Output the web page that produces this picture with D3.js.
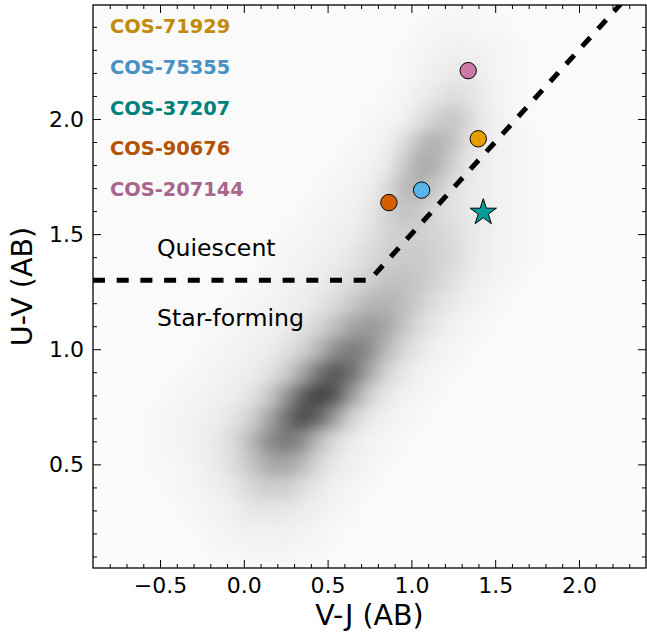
<!DOCTYPE html>
<html><head><meta charset="utf-8">
<script src="https://cdn.jsdelivr.net/npm/d3@7"></script>
<style>body{margin:0;background:#fff}svg{display:block}text{font-family:"DejaVu Sans",sans-serif}</style>
</head><body><svg id="c" width="647" height="639"></svg>
<script>
// ---- data ----
const xCenters=[-0.85,-0.75,-0.65,-0.55,-0.45,-0.35,-0.25,-0.15,-0.05,0.05,0.15,0.25,0.35,0.45,0.55,0.65,0.75,0.85,0.95,1.05,1.15,1.25,1.35,1.45,1.55,1.65,1.75,1.85,1.95,2.05,2.15,2.25,2.35];
const yCenters=[2.5,2.4,2.3,2.2,2.1,2.0,1.9,1.8,1.7,1.6,1.5,1.4,1.3,1.2,1.1,1.0,0.9,0.8,0.7,0.6,0.5,0.4,0.3,0.2,0.1];
const density=[
[2,2,2,2,2,2,2,2,2,2,2,2,2,2,2,2,2,2,2,2,2,3,3,3,2,2,2,2,2,2,2,2,2],
[2,2,2,2,2,2,2,2,2,2,2,2,2,2,2,2,2,2,2,3,4,4,4,3,3,2,2,2,2,2,2,2,2],
[2,2,2,2,2,2,2,2,2,2,2,2,2,2,2,2,2,2,3,4,5,6,6,5,4,3,2,2,2,2,2,2,2],
[2,2,2,2,2,2,2,2,2,2,2,2,2,2,2,2,2,2,3,5,7,9,9,6,4,3,2,2,2,2,2,2,2],
[2,2,2,2,2,2,2,2,2,2,2,2,2,2,2,2,2,3,4,7,11,14,12,7,4,3,2,2,2,2,2,2,2],
[2,2,2,2,2,2,2,2,2,2,2,2,2,2,2,2,3,4,6,12,20,24,16,8,5,3,2,2,2,2,2,2,2],
[2,2,2,2,2,2,2,2,2,2,2,2,2,2,2,3,4,6,14,27,33,25,12,7,5,4,3,2,2,2,2,2,2],
[2,2,2,2,2,2,2,2,2,2,2,2,2,2,3,4,5,9,22,35,33,19,10,7,5,4,3,2,2,2,2,2,2],
[2,2,2,2,2,2,2,2,2,2,2,2,2,3,4,5,7,15,28,32,22,13,9,7,5,4,3,2,2,2,2,2,2],
[2,2,2,2,2,2,2,2,2,2,2,2,3,4,5,6,10,18,25,22,16,12,9,7,5,4,3,2,2,2,2,2,2],
[2,2,2,2,2,2,2,2,2,2,2,3,4,5,6,8,12,18,20,20,17,14,10,7,5,4,3,2,2,2,2,2,2],
[2,2,2,2,2,2,2,2,2,2,3,4,5,6,8,11,15,20,22,22,19,16,10,7,5,4,3,2,2,2,2,2,2],
[2,2,2,2,2,2,2,2,2,3,4,5,6,8,11,15,20,25,26,23,18,13,8,6,4,3,2,2,2,2,2,2,2],
[2,2,2,2,2,2,2,2,3,4,5,6,8,11,16,23,30,32,28,20,13,9,6,4,3,2,2,2,2,2,2,2,2],
[2,2,2,2,2,2,2,3,4,5,6,8,12,18,28,38,43,38,25,15,9,6,4,3,2,2,2,2,2,2,2,2,2],
[2,2,2,2,2,2,3,4,5,6,8,12,19,32,48,55,48,31,17,10,6,4,3,2,2,2,2,2,2,2,2,2,2],
[2,2,2,2,2,3,4,5,6,8,12,21,38,60,70,60,38,19,10,6,4,3,2,2,2,2,2,2,2,2,2,2,2],
[2,2,2,2,3,4,5,6,8,12,23,44,68,80,70,42,20,10,6,4,3,2,2,2,2,2,2,2,2,2,2,2,2],
[2,2,2,3,4,5,6,8,12,21,38,60,74,64,40,18,9,6,4,3,2,2,2,2,2,2,2,2,2,2,2,2,2],
[2,2,2,3,4,5,7,10,17,31,48,56,48,28,14,8,5,4,3,2,2,2,2,2,2,2,2,2,2,2,2,2,2],
[2,2,2,3,3,4,6,9,15,25,35,38,29,16,9,6,4,3,2,2,2,2,2,2,2,2,2,2,2,2,2,2,2],
[2,2,2,2,3,4,5,7,11,17,21,20,14,9,6,4,3,2,2,2,2,2,2,2,2,2,2,2,2,2,2,2,2],
[2,2,2,2,2,3,4,5,7,10,11,10,8,6,4,3,2,2,2,2,2,2,2,2,2,2,2,2,2,2,2,2,2],
[2,2,2,2,2,2,3,4,5,6,6,6,5,4,3,2,2,2,2,2,2,2,2,2,2,2,2,2,2,2,2,2,2],
[2,2,2,2,2,2,2,3,3,4,4,4,3,3,2,2,2,2,2,2,2,2,2,2,2,2,2,2,2,2,2,2,2]
];
const binW=0.1, binH=0.1;

const objNames=["COS-71929","COS-75355","COS-37207","COS-90676","COS-207144"];
const objVJ=[1.399,1.061,1.429,0.866,1.339];
const objUV=[1.914,1.691,1.594,1.637,2.210];
const objShape=["circle","circle","star","circle","circle"];
const objFill=["#e69f00","#56b4e9","#009d96","#d55e00","#cc79a7"];
const objLabelColor=["#c28b0c","#4791c3","#00827a","#b45206","#a8668c"];

const boundaryVJ=[-0.9,0.75,2.25];
const boundaryUV=[1.3,1.3,2.5];

const regionLabels=["Quiescent","Star-forming"];
const regionVJ=[-0.518,-0.518];
const regionUV=[1.405,1.100];

const xMajor=[-0.5,0.0,0.5,1.0,1.5,2.0];
const xMajorLabels=["\u22120.5","0.0","0.5","1.0","1.5","2.0"];
const xMinor=[-0.8,-0.7,-0.6,-0.4,-0.3,-0.2,-0.1,0.1,0.2,0.3,0.4,0.6,0.7,0.8,0.9,1.1,1.2,1.3,1.4,1.6,1.7,1.8,1.9,2.1,2.2,2.3];
const yMajor=[0.5,1.0,1.5,2.0];
const yMajorLabels=["0.5","1.0","1.5","2.0"];
const yMinor=[0.1,0.2,0.3,0.4,0.6,0.7,0.8,0.9,1.1,1.2,1.3,1.4,1.6,1.7,1.8,1.9,2.1,2.2,2.3,2.4];

// ---- layout ----
const L=93,R=646,T=5,B=568;
const x=d3.scaleLinear().domain([-0.9,2.4]).range([L,R]);
const y=d3.scaleLinear().domain([0.05,2.495]).range([B,T]);
const shade=d3.scaleLinear().domain([0,100]).range([255,15]).clamp(true);

const svg=d3.select("#c");
const defs=svg.append("defs");
defs.append("clipPath").attr("id","plotclip").append("rect")
  .attr("x",L).attr("y",T).attr("width",R-L).attr("height",B-T);
defs.append("filter").attr("id","blur").attr("x",-0.05).attr("y",-0.05).attr("width",1.1).attr("height",1.1)
  .append("feGaussianBlur").attr("stdDeviation",7);

const plot=svg.append("g").attr("clip-path","url(#plotclip)");
const heat=plot.append("g").attr("filter","url(#blur)");
const cells=[];
density.forEach((row,ri)=>row.forEach((v,ci)=>cells.push({xc:xCenters[ci],yc:yCenters[ri],v})));
heat.selectAll("rect").data(cells).join("rect")
  .attr("x",d=>x(d.xc-binW/2))
  .attr("y",d=>y(d.yc+binH/2))
  .attr("width",d=>x(d.xc+binW/2)-x(d.xc-binW/2)+0.6)
  .attr("height",d=>y(d.yc-binH/2)-y(d.yc+binH/2)+0.6)
  .attr("fill",d=>{const g=Math.round(shade(d.v));return `rgb(${g},${g},${g})`;});

// boundary
const line=d3.line().x(d=>x(d[0])).y(d=>y(d[1]));
plot.append("path").datum(boundaryVJ.map((v,i)=>[v,boundaryUV[i]]))
  .attr("d",line).attr("fill","none").attr("stroke","#000")
  .attr("stroke-width",5).attr("stroke-dasharray","12,11.7");

// markers
const objs=objNames.map((n,i)=>({n,vj:objVJ[i],uv:objUV[i],shape:objShape[i],fill:objFill[i]}));
plot.selectAll("path.m").data(objs).join("path").attr("class","m")
  .attr("transform",d=>`translate(${x(d.vj)},${y(d.uv)})`)
  .attr("d",d=>d.shape==="star"?d3.symbol(d3.symbolStar,215)():d3.symbol(d3.symbolCircle,Math.PI*8.2*8.2)())
  .attr("fill",d=>d.fill).attr("stroke","#000").attr("stroke-width",1);

// object labels
svg.selectAll("text.obj").data(objNames).join("text").attr("class","obj")
  .attr("x",110).attr("y",(d,i)=>33+i*40.8)
  .attr("font-size",19.4).attr("font-weight","bold")
  .attr("fill",(d,i)=>objLabelColor[i]).text(d=>d);

// region labels
svg.selectAll("text.reg").data(regionLabels).join("text").attr("class","reg")
  .attr("x",(d,i)=>x(regionVJ[i])).attr("y",(d,i)=>y(regionUV[i]))
  .attr("font-size",23.6).attr("fill","#000").text(d=>d);

// axes
function styleAxis(g){g.select(".domain").remove();g.selectAll(".tick line").attr("stroke","#000").attr("stroke-width",1);}
svg.append("g").attr("transform",`translate(0,${B})`)
  .call(d3.axisBottom(x).tickValues(xMajor).tickFormat((d,i)=>xMajorLabels[i]).tickSize(-8).tickPadding(9))
  .call(styleAxis).call(g=>g.selectAll("text").attr("font-size",22).attr("font-family","DejaVu Sans").attr("fill","#000"));
svg.append("g").attr("transform",`translate(0,${B})`)
  .call(d3.axisBottom(x).tickValues(xMinor).tickFormat("").tickSize(-4)).call(styleAxis);
svg.append("g").attr("transform",`translate(0,${T})`)
  .call(d3.axisTop(x).tickValues(xMajor).tickFormat("").tickSize(-8)).call(styleAxis);
svg.append("g").attr("transform",`translate(0,${T})`)
  .call(d3.axisTop(x).tickValues(xMinor).tickFormat("").tickSize(-4)).call(styleAxis);
svg.append("g").attr("transform",`translate(${L},0)`)
  .call(d3.axisLeft(y).tickValues(yMajor).tickFormat((d,i)=>yMajorLabels[i]).tickSize(-8).tickPadding(9))
  .call(styleAxis).call(g=>g.selectAll("text").attr("font-size",22).attr("font-family","DejaVu Sans").attr("fill","#000"));
svg.append("g").attr("transform",`translate(${L},0)`)
  .call(d3.axisLeft(y).tickValues(yMinor).tickFormat("").tickSize(-4)).call(styleAxis);
svg.append("g").attr("transform",`translate(${R},0)`)
  .call(d3.axisRight(y).tickValues(yMajor).tickFormat("").tickSize(-8)).call(styleAxis);
svg.append("g").attr("transform",`translate(${R},0)`)
  .call(d3.axisRight(y).tickValues(yMinor).tickFormat("").tickSize(-4)).call(styleAxis);

svg.append("rect").attr("x",L).attr("y",T).attr("width",R-L).attr("height",B-T)
  .attr("fill","none").attr("stroke","#000").attr("stroke-width",1.3);

svg.append("text").attr("x",(L+R)/2).attr("y",625).attr("text-anchor","middle")
  .attr("font-size",28.5).attr("fill","#000").text("V-J (AB)");
svg.append("text").attr("transform",`translate(32,${(T+B)/2}) rotate(-90)`).attr("text-anchor","middle")
  .attr("font-size",28.5).attr("fill","#000").text("U-V (AB)");
</script></body></html>
